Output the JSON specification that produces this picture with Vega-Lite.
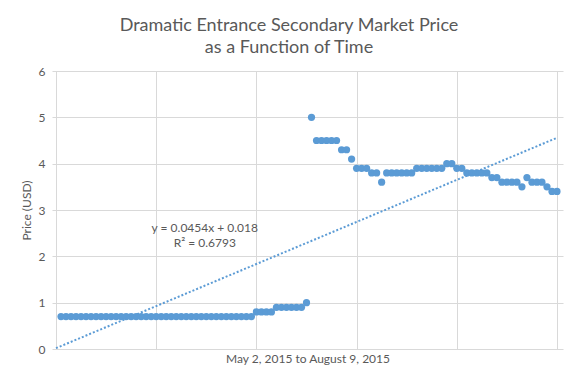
{
  "$schema": "https://vega.github.io/schema/vega-lite/v6.json",
  "width": 511,
  "height": 278,
  "autosize": {"type": "none"},
  "padding": {"left": 52, "top": 71, "right": 14, "bottom": 35},
  "background": "white",
  "title": {
    "text": ["Dramatic Entrance Secondary Market Price", "as a Function of Time"],
    "fontSize": 18,
    "font": "Lato",
    "fontWeight": "normal",
    "color": "#595959",
    "anchor": "middle",
    "dx": -18.5,
    "offset": 8,
    "lineHeight": 22.5
  },
  "datasets": {
    "prices": [
      {"x": 1, "y": 0.7}, {"x": 2, "y": 0.7}, {"x": 3, "y": 0.7}, {"x": 4, "y": 0.7}, {"x": 5, "y": 0.7},
      {"x": 6, "y": 0.7}, {"x": 7, "y": 0.7}, {"x": 8, "y": 0.7}, {"x": 9, "y": 0.7}, {"x": 10, "y": 0.7},
      {"x": 11, "y": 0.7}, {"x": 12, "y": 0.7}, {"x": 13, "y": 0.7}, {"x": 14, "y": 0.7}, {"x": 15, "y": 0.7},
      {"x": 16, "y": 0.7}, {"x": 17, "y": 0.7}, {"x": 18, "y": 0.7}, {"x": 19, "y": 0.7}, {"x": 20, "y": 0.7},
      {"x": 21, "y": 0.7}, {"x": 22, "y": 0.7}, {"x": 23, "y": 0.7}, {"x": 24, "y": 0.7}, {"x": 25, "y": 0.7},
      {"x": 26, "y": 0.7}, {"x": 27, "y": 0.7}, {"x": 28, "y": 0.7}, {"x": 29, "y": 0.7}, {"x": 30, "y": 0.7},
      {"x": 31, "y": 0.7}, {"x": 32, "y": 0.7}, {"x": 33, "y": 0.7}, {"x": 34, "y": 0.7}, {"x": 35, "y": 0.7},
      {"x": 36, "y": 0.7}, {"x": 37, "y": 0.7}, {"x": 38, "y": 0.7}, {"x": 39, "y": 0.7},
      {"x": 40, "y": 0.8}, {"x": 41, "y": 0.8}, {"x": 42, "y": 0.8}, {"x": 43, "y": 0.8},
      {"x": 44, "y": 0.9}, {"x": 45, "y": 0.9}, {"x": 46, "y": 0.9}, {"x": 47, "y": 0.9}, {"x": 48, "y": 0.9}, {"x": 49, "y": 0.9},
      {"x": 50, "y": 1.0},
      {"x": 51, "y": 5.0},
      {"x": 52, "y": 4.5}, {"x": 53, "y": 4.5}, {"x": 54, "y": 4.5}, {"x": 55, "y": 4.5}, {"x": 56, "y": 4.5},
      {"x": 57, "y": 4.3}, {"x": 58, "y": 4.3},
      {"x": 59, "y": 4.1},
      {"x": 60, "y": 3.9}, {"x": 61, "y": 3.9}, {"x": 62, "y": 3.9},
      {"x": 63, "y": 3.8}, {"x": 64, "y": 3.8},
      {"x": 65, "y": 3.6},
      {"x": 66, "y": 3.8}, {"x": 67, "y": 3.8}, {"x": 68, "y": 3.8}, {"x": 69, "y": 3.8}, {"x": 70, "y": 3.8}, {"x": 71, "y": 3.8},
      {"x": 72, "y": 3.9}, {"x": 73, "y": 3.9}, {"x": 74, "y": 3.9}, {"x": 75, "y": 3.9}, {"x": 76, "y": 3.9}, {"x": 77, "y": 3.9},
      {"x": 78, "y": 4.0}, {"x": 79, "y": 4.0},
      {"x": 80, "y": 3.9}, {"x": 81, "y": 3.9},
      {"x": 82, "y": 3.8}, {"x": 83, "y": 3.8}, {"x": 84, "y": 3.8}, {"x": 85, "y": 3.8}, {"x": 86, "y": 3.8},
      {"x": 87, "y": 3.7}, {"x": 88, "y": 3.7},
      {"x": 89, "y": 3.6}, {"x": 90, "y": 3.6}, {"x": 91, "y": 3.6}, {"x": 92, "y": 3.6},
      {"x": 93, "y": 3.5},
      {"x": 94, "y": 3.7},
      {"x": 95, "y": 3.6}, {"x": 96, "y": 3.6}, {"x": 97, "y": 3.6},
      {"x": 98, "y": 3.5},
      {"x": 99, "y": 3.4}, {"x": 100, "y": 3.4}
    ],
    "labels": [
      {"x": 29.7, "y": 2.61, "label": "y = 0.0454x + 0.018"},
      {"x": 29.7, "y": 2.29, "label": "R² = 0.6793"}
    ]
  },
  "data": {"name": "prices"},
  "encoding": {
    "x": {
      "field": "x",
      "type": "quantitative",
      "scale": {"domain": [-0.8, 101.2], "nice": false, "zero": false},
      "axis": {
        "values": [0, 20, 40, 60, 80, 100],
        "labels": false,
        "ticks": false,
        "domain": false,
        "grid": true,
        "title": "May 2, 2015 to August 9, 2015",
        "titlePadding": 4
      }
    },
    "y": {
      "field": "y",
      "type": "quantitative",
      "scale": {"domain": [0, 6], "nice": false},
      "axis": {
        "values": [0, 1, 2, 3, 4, 5, 6],
        "ticks": false,
        "domain": false,
        "grid": true,
        "labelPadding": 7,
        "title": "Price (USD)",
        "titlePadding": 5
      }
    }
  },
  "layer": [
    {
      "mark": {"type": "point", "shape": "circle", "filled": true, "size": 52, "color": "#5B9BD5", "opacity": 1}
    },
    {
      "transform": [{"regression": "y", "on": "x", "extent": [0, 100]}],
      "mark": {"type": "line", "color": "#5B9BD5", "strokeWidth": 2, "strokeDash": [2, 2], "strokeCap": "butt"}
    },
    {
      "data": {"name": "labels"},
      "mark": {"type": "text", "font": "Lato", "fontSize": 12, "color": "#595959", "align": "center", "baseline": "middle"},
      "encoding": {"text": {"field": "label", "type": "nominal"}}
    }
  ],
  "config": {
    "view": {"stroke": null},
    "font": "Lato",
    "axis": {
      "gridColor": "#d9d9d9",
      "gridOpacity": 1,
      "gridWidth": 1,
      "labelColor": "#595959",
      "titleColor": "#595959",
      "labelFont": "Lato",
      "titleFont": "Lato",
      "labelFontSize": 12,
      "titleFontSize": 12,
      "titleFontWeight": "normal"
    }
  }
}
